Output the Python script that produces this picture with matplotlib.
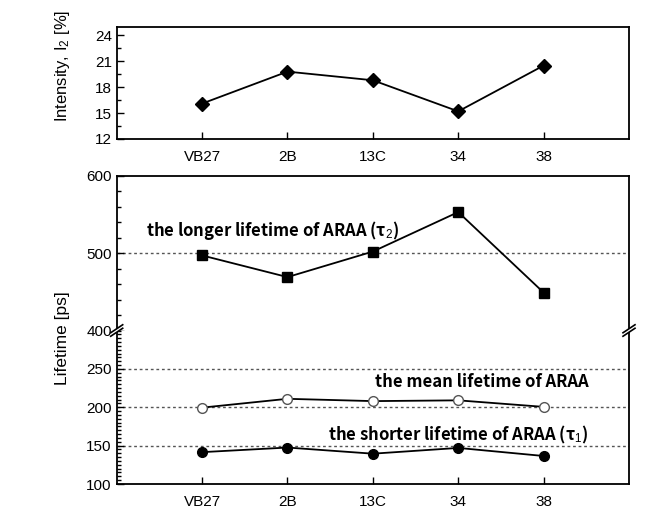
import matplotlib
matplotlib.use("Agg")
import matplotlib.pyplot as plt
from matplotlib.ticker import MultipleLocator, FixedLocator
from matplotlib.lines import Line2D
from matplotlib.patches import Polygon

# ---------------- data ----------------
samples = ["VB27", "2B", "13C", "34", "38"]
intensity_i2 = [16.1, 19.8, 18.8, 15.2, 20.5]
tau2_long = [497, 469, 502, 553, 449]
tau_mean = [199.5, 211, 208, 209, 200.5]
tau1_short = [141.5, 147.5, 139.5, 147, 136.5]

top_yticks = [12, 15, 18, 21, 24]
upper_yticks = [400, 500, 600]
lower_yticks = [100, 150, 200, 250]
upper_grid = [500]
lower_grid = [150, 200, 250]

label_long = "the longer lifetime of ARAA (τ$_2$)"
label_mean = "the mean lifetime of ARAA"
label_short = "the shorter lifetime of ARAA (τ$_1$)"

plt.rcParams['font.family'] = ['Liberation Sans Narrow', 'Liberation Sans', 'DejaVu Sans']
plt.rcParams['mathtext.fontset'] = 'custom'
plt.rcParams['mathtext.rm'] = 'Liberation Sans'
plt.rcParams['mathtext.it'] = 'Liberation Sans'

W, H = 661, 512
fig = plt.figure(figsize=(W / 100, H / 100), dpi=100)

L = 116.7 / W
R = 629 / W
def fy(p):
    return 1 - p / H

ax_top = fig.add_axes([L, fy(139), R - L, fy(26.7) - fy(139)])
ax_up = fig.add_axes([L, fy(330.5), R - L, fy(175.7) - fy(330.5)])
ax_lo = fig.add_axes([L, fy(484), R - L, fy(330.5) - fy(484)])

x = list(range(1, len(samples) + 1))

def style(ax):
    ax.set_xlim(0, 6)
    ax.tick_params(axis='both', which='both', direction='in', right=False, top=False,
                   labelsize=11, width=1.0, colors='black')
    ax.tick_params(axis='both', which='major', length=5)
    ax.tick_params(axis='both', which='minor', length=3)
    for s in ax.spines.values():
        s.set_linewidth(1.3)

ann_font = dict(fontsize=12, fontweight='bold',
                family=['Noto Sans CJK KR', 'Noto Sans', 'DejaVu Sans'])

# ---- top panel ----
style(ax_top)
ax_top.plot(x, intensity_i2, color='black', lw=1.3, marker='D', ms=7, mfc='black', mec='black')
ax_top.set_ylim(12, 25)
ax_top.yaxis.set_major_locator(FixedLocator(top_yticks))
ax_top.yaxis.set_minor_locator(MultipleLocator(1.5))
ax_top.set_xticks(x)
ax_top.set_xticklabels(samples)
ax_top.tick_params(axis='x', pad=8)

# ---- upper part of lifetime panel ----
style(ax_up)
for g in upper_grid:
    ax_up.axhline(g, color='#555555', lw=1.0, ls=(0, (2, 2)), zorder=1)
ax_up.plot(x, tau2_long, color='black', lw=1.3, marker='s', ms=7, mfc='black', mec='black', zorder=3)
ax_up.set_ylim(400, 600)
ax_up.yaxis.set_major_locator(FixedLocator(upper_yticks))
ax_up.yaxis.set_minor_locator(MultipleLocator(20))
ax_up.set_xticks([])
ax_up.spines['bottom'].set_visible(False)
ax_up.text(0.34, 529, label_long, ha='left', va='center', **ann_font)

# ---- lower part ----
style(ax_lo)
for g in lower_grid:
    ax_lo.axhline(g, color='#555555', lw=1.0, ls=(0, (2, 2)), zorder=1)
ax_lo.plot(x, tau_mean, color='black', lw=1.3, marker='o', ms=7, mfc='white', mec='#555555',
           mew=1.0, zorder=3)
ax_lo.plot(x, tau1_short, color='black', lw=1.3, marker='o', ms=7, mfc='black', mec='black', zorder=3)
ax_lo.set_ylim(100, 300)
ax_lo.yaxis.set_major_locator(FixedLocator(lower_yticks))
ax_lo.yaxis.set_minor_locator(MultipleLocator(5))
ax_lo.spines['top'].set_visible(False)
ax_lo.set_xticks(x)
ax_lo.set_xticklabels(samples)
ax_lo.tick_params(axis='x', pad=8)
ax_lo.text(5.53, 232.6, label_mean, ha='right', va='center', **ann_font)
ax_lo.text(5.52, 164, label_short, ha='right', va='center', **ann_font)

# ---- axis-break marks ----
yb = fy(330.5)
dx = 6 / W
dy = 4 / H
gap = 3.5 / H
for xb in (L, R):
    poly = Polygon([[xb - dx, yb - dy - gap / 2], [xb + dx, yb + dy - gap / 2],
                    [xb + dx, yb + dy + gap / 2], [xb - dx, yb - dy + gap / 2]],
                   closed=True, transform=fig.transFigure, facecolor='white',
                   edgecolor='none', zorder=10)
    fig.add_artist(poly)
    for off in (-gap / 2, gap / 2):
        fig.add_artist(Line2D([xb - dx, xb + dx], [yb - dy + off, yb + dy + off],
                              transform=fig.transFigure, color='black', lw=1.2, zorder=11))

# ---- axis labels ----
fig.text(62 / W, fy(66), "Intensity, I$_2$ [%]", rotation=90, ha='center', va='center',
         fontsize=12, family=['Liberation Sans', 'DejaVu Sans'])
fig.text(63 / W, fy(338), "Lifetime [ps]", rotation=90, ha='center', va='center',
         fontsize=12.5, family=['Liberation Sans', 'DejaVu Sans'])

fig.savefig("out.png", dpi=100, facecolor='white')
